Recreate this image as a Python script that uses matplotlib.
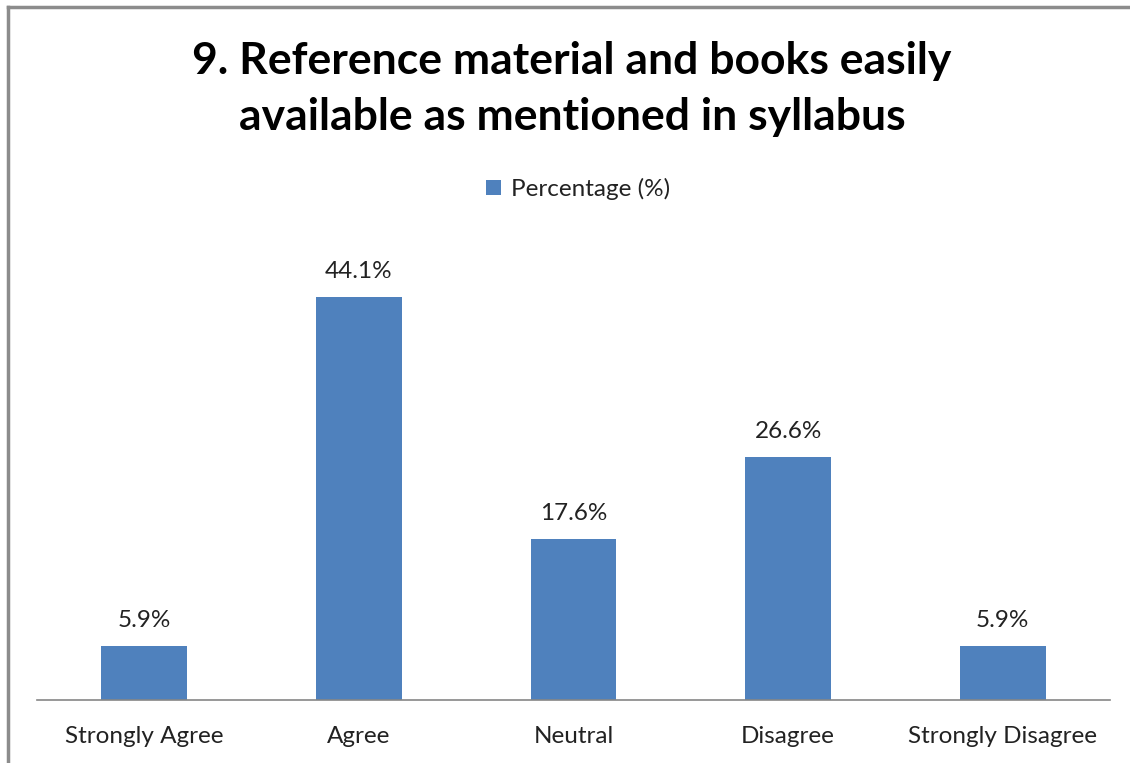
import matplotlib
matplotlib.use("Agg")
from matplotlib import pyplot as plt
from matplotlib.lines import Line2D

categories = ["Strongly Agree", "Agree", "Neutral", "Disagree", "Strongly Disagree"]
percentages = [5.9, 44.1, 17.6, 26.6, 5.9]
value_labels = ["5.9%", "44.1%", "17.6%", "26.6%", "5.9%"]
series_name = "Percentage (%)"
title = "9. Reference material and books easily\navailable as mentioned in syllabus"

bar_color = "#4F81BD"
frame_color = "#8C8C8C"

plt.rcParams["font.family"] = ["Lato", "DejaVu Sans"]

W, H = 1130, 763
fig = plt.figure(figsize=(W / 100, H / 100), dpi=100)

# outer chart frame: only left and top edges are visible in the original
fig.lines.append(Line2D([8 / W, 8 / W], [0, 1 - 7 / H], transform=fig.transFigure,
                        color=frame_color, linewidth=2.5))
fig.lines.append(Line2D([8 / W, 1], [1 - 7 / H, 1 - 7 / H], transform=fig.transFigure,
                        color=frame_color, linewidth=2.5))

ax = fig.add_axes([37 / W, (H - 700) / H, (1110 - 37) / W, (700 - 243) / H])
x = range(len(categories))
bars = ax.bar(x, percentages, width=0.4, color=bar_color, label=series_name)
ax.set_xlim(-0.5, len(categories) - 0.5)
ax.set_ylim(0, 50)

for rect, lab in zip(bars, value_labels):
    ax.annotate(lab, (rect.get_x() + rect.get_width() / 2, rect.get_height()),
                xytext=(0, 13.5), textcoords="offset points",
                ha="center", va="baseline", fontsize=17.5, color="#222222")

for side in ["top", "right", "left"]:
    ax.spines[side].set_visible(False)
ax.spines["bottom"].set_color("#868686")
ax.spines["bottom"].set_linewidth(1.2)
ax.set_yticks([])
ax.set_xticks(list(x))
ax.set_xticklabels(categories, fontsize=17.5, color="#222222")
ax.tick_params(axis="x", length=0, pad=19)

fig.text(572 / W, 1 - 89 / H, title, ha="center", va="center",
         fontsize=32, fontweight="bold", linespacing=1.48, color="black")

fig.legend(loc="center", bbox_to_anchor=(578 / W, 1 - 189 / H), frameon=False,
           fontsize=17.5, handlelength=0.6, handleheight=0.6, handletextpad=0.4,
           labelcolor="#222222")

fig.savefig("out.png", dpi=100, facecolor="white")
